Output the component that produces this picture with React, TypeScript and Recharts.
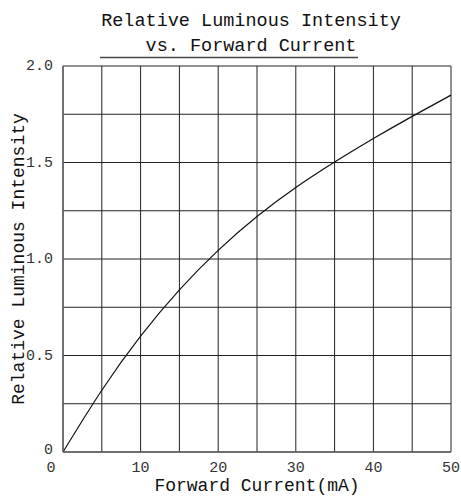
import React from 'react';
import { LineChart, Line, XAxis, YAxis, CartesianGrid } from 'recharts';

const currents = [0, 5, 10, 15, 20, 25, 30, 35, 40, 45, 50];
const intensities = [0, 0.32, 0.6, 0.84, 1.045, 1.22, 1.37, 1.502, 1.624, 1.739, 1.849];
const xTicks = [0, 5, 10, 15, 20, 25, 30, 35, 40, 45, 50];
const yTicks = [0, 0.25, 0.5, 0.75, 1.0, 1.25, 1.5, 1.75, 2.0];
const xLabels = ['0', '10', '20', '30', '40', '50'];
const yLabels = ['0', '0.5', '1.0', '1.5', '2.0'];
const titleLines = ['Relative Luminous Intensity', 'vs. Forward Current'];
const xTitle = 'Forward Current(mA)';
const yTitle = 'Relative Luminous Intensity';

const data = currents.map((c, i) => ({ c, v: intensities[i] }));
const FONT = '"Liberation Mono", "DejaVu Sans Mono", monospace';

const XTick = (props: any) => {
  const { x, y, payload } = props;
  const v = payload.value;
  const label = v % 10 === 0 ? xLabels[v / 10] : '';
  if (!label) return null;
  const dx = v === 0 ? -12 : 0;
  return (
    <text x={x + dx} y={y + 12} textAnchor="middle" fontFamily={FONT} fontSize={15} fill="#333">
      {label}
    </text>
  );
};

const YTick = (props: any) => {
  const { x, y, payload } = props;
  const v = payload.value;
  const idx = Math.round(v * 2);
  const isMajor = Math.abs(v * 2 - idx) < 1e-6;
  if (!isMajor) return null;
  const label = yLabels[idx];
  return (
    <text x={x - 2} y={y + 4 - (v === 0 ? 2 : 0)} textAnchor="end" fontFamily={FONT} fontSize={15} fill="#333">
      {label}
    </text>
  );
};

export default function App() {
  return (
    <div style={{ position: 'absolute', left: 0, top: 0, width: 461, height: 497, background: '#fff' }}>
      <svg width={461} height={62} style={{ position: 'absolute', left: 0, top: 0 }}>
        <text x={251} y={26} textAnchor="middle" fontFamily={FONT} fontSize={18.5} fill="#111">
          {titleLines[0]}
        </text>
        <text x={251} y={51} textAnchor="middle" fontFamily={FONT} fontSize={18.5} fill="#111">
          {titleLines[1]}
        </text>
        <line x1={100} x2={358} y1={57.5} y2={57.5} stroke="#444" strokeWidth={1.3} />
      </svg>
      <div style={{ position: 'absolute', left: 0, top: 0 }}>
        <LineChart width={461} height={497} data={data} margin={{ top: 66, right: 10, bottom: 15, left: 23 }}>
          <CartesianGrid stroke="#222" strokeWidth={1} />
          <XAxis
            dataKey="c"
            type="number"
            domain={[0, 50]}
            ticks={xTicks}
            interval={0}
            tickLine={false}
            axisLine={{ stroke: '#666', strokeWidth: 1.5 }}
            height={30}
            tick={<XTick />}
            label={{ value: xTitle, position: 'insideBottom', offset: -9, style: { fontFamily: FONT, fontSize: 18, fill: '#111' } }}
          />
          <YAxis
            type="number"
            domain={[0, 2]}
            ticks={yTicks}
            interval={0}
            tickLine={false}
            axisLine={{ stroke: '#666', strokeWidth: 1.5 }}
            width={40}
            tick={<YTick />}
            label={{ value: yTitle, angle: -90, position: 'insideLeft', offset: -5, dy: 0, style: { fontFamily: FONT, fontSize: 18, fill: '#111', textAnchor: 'middle' } }}
          />
          <Line type="natural" dataKey="v" stroke="#111" strokeWidth={1.2} dot={false} isAnimationActive={false} />
        </LineChart>
      </div>
    </div>
  );
}
